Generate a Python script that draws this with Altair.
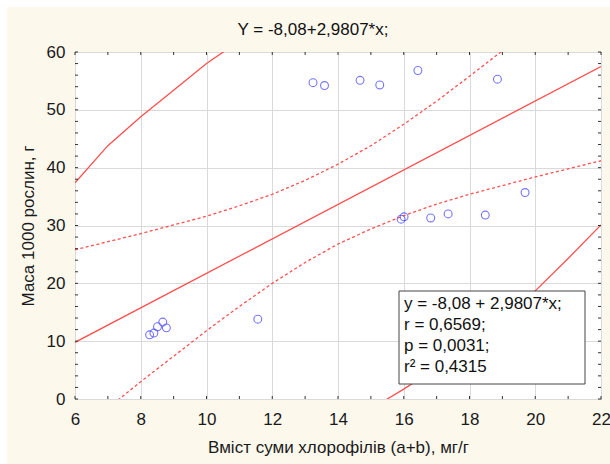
import altair as alt
import pandas as pd

# ---- data ----
x_vals = [8.27, 8.40, 8.51, 8.67, 8.78, 11.56, 13.24, 13.59, 14.67, 15.27, 16.43, 18.85,
          15.92, 16.01, 16.82, 17.35, 18.48, 19.69]
y_vals = [11.1, 11.4, 12.5, 13.3, 12.3, 13.8, 54.7, 54.2, 55.1, 54.3, 56.8, 55.3,
          31.1, 31.5, 31.3, 32.0, 31.8, 35.7]

fit_x = [6, 22]
fit_y = [9.80, 57.50]

band_x = [6, 7, 8, 9, 10, 11, 12, 13, 14, 15, 16, 17, 18, 19, 20, 21, 22]
ci_upper = [25.8, 27.2, 28.6, 30.1, 31.6, 33.4, 35.4, 37.8, 40.6, 43.8, 47.5, 51.5, 55.8, 60.2, 64.6, 69.2, 73.8]
ci_lower = [-6.2, -1.6, 3.0, 7.4, 11.8, 16.0, 20.0, 23.6, 26.8, 29.4, 31.7, 33.7, 35.4, 36.9, 38.4, 39.8, 41.2]

pi_upper_x = [6, 7, 8, 9, 10, 11]
pi_upper = [37.4, 43.8, 48.8, 53.4, 58.0, 61.9]
pi_lower_x = [15, 16, 17, 18, 19, 20, 21, 22]
pi_lower = [-1.7, 1.7, 5.4, 9.5, 13.9, 18.7, 24.3, 30.1]

x_ticks_minor = list(range(6, 23))
y_ticks_minor = list(range(0, 61, 2))
x_labels = list(range(6, 23, 2))
y_labels = list(range(0, 61, 10))

title_text = "Y = -8,08+2,9807*x;"
x_title = "Вміст суми хлорофілів (a+b), мг/г"
y_title = "Маса 1000 рослин, г"
legend_lines = ["y = -8,08 + 2,9807*x;", "r = 0,6569;", "p = 0,0031;", "r² = 0,4315"]

# ---- layout ----
W, H = 526, 347
FONT = "Liberation Sans"
RED = "#ff4f4f"
BLUE = "#3c3cff"
CREAM = "#fdf8ec"

xs = alt.Scale(domain=[6, 22], nice=False, zero=False)
ys = alt.Scale(domain=[0, 60], nice=False, zero=False)

pts = pd.DataFrame({"x": x_vals, "y": y_vals})
fit = pd.DataFrame({"x": fit_x, "y": fit_y})
ciu = pd.DataFrame({"x": band_x, "y": ci_upper})
cil = pd.DataFrame({"x": band_x, "y": ci_lower})
piu = pd.DataFrame({"x": pi_upper_x, "y": pi_upper})
pil = pd.DataFrame({"x": pi_lower_x, "y": pi_lower})

xaxis = alt.Axis(values=x_labels, title=x_title, labelFontSize=17, titleFontSize=17,
                 labelFont=FONT, titleFont=FONT, labelColor="#1a1a1a", titleColor="#1a1a1a",
                 titleFontWeight="normal", ticks=False, domain=False, labelPadding=12,
                 titlePadding=12, labelFlush=False, grid=True, gridColor="#dadada")
yaxis = alt.Axis(values=y_labels, title=y_title, labelFontSize=17, titleFontSize=17,
                 labelFont=FONT, titleFont=FONT, labelColor="#1a1a1a", titleColor="#1a1a1a",
                 titleFontWeight="normal", ticks=False, domain=False, labelPadding=10,
                 titlePadding=9, labelFlush=False, grid=True, gridColor="#dadada")

X = lambda f: alt.X(f, scale=xs, axis=xaxis)
Y = lambda f: alt.Y(f, scale=ys, axis=yaxis)

base_pts = alt.Chart(pts).mark_point(shape="circle", filled=False, color=BLUE, size=62,
                                     strokeWidth=1.1).encode(x=X("x:Q"), y=Y("y:Q"))

def line(df, dash=None):
    kw = dict(color=RED, strokeWidth=1.3, clip=True)
    if dash:
        kw["strokeDash"] = dash
    return alt.Chart(df).mark_line(**kw).encode(x=X("x:Q"), y=Y("y:Q"))

one = pd.DataFrame({"a": [0]})
# white strips at top and left of the canvas (outside plot)
strip_top = alt.Chart(one).mark_rect(color="white", clip=False).encode(
    x=alt.value(-80), x2=alt.value(W + 20), y=alt.value(-60), y2=alt.value(-45))
strip_left = alt.Chart(one).mark_rect(color="white", clip=False).encode(
    x=alt.value(-80), x2=alt.value(-68), y=alt.value(-60), y2=alt.value(H + 80))

xt = pd.DataFrame({"x": x_ticks_minor})
yt = pd.DataFrame({"y": y_ticks_minor})
TK = 3
tick_b = alt.Chart(xt).mark_rule(color="#333", strokeWidth=1).encode(
    x=X("x:Q"), y=alt.value(H), y2=alt.value(H - TK))
tick_t = alt.Chart(xt).mark_rule(color="#333", strokeWidth=1).encode(
    x=X("x:Q"), y=alt.value(0), y2=alt.value(TK))
tick_l = alt.Chart(yt).mark_rule(color="#333", strokeWidth=1).encode(
    y=Y("y:Q"), x=alt.value(0), x2=alt.value(TK))
tick_r = alt.Chart(yt).mark_rule(color="#333", strokeWidth=1).encode(
    y=Y("y:Q"), x=alt.value(W), x2=alt.value(W - TK))

# annotation box
BX0, BX1, BY0, BY1 = 324, 510, 239, 332
box = alt.Chart(one).mark_rect(fill="white", stroke="#444", strokeWidth=1).encode(
    x=alt.value(BX0), x2=alt.value(BX1), y=alt.value(BY0), y2=alt.value(BY1))
leg = pd.DataFrame({"t": ["\n".join(legend_lines)]})
leg_text = alt.Chart(leg).mark_text(align="left", baseline="top", font=FONT, fontSize=17,
                                    color="#111", lineBreak="\n", lineHeight=21).encode(
    text="t:N", x=alt.value(BX0 + 5), y=alt.value(BY0 + 5))

title = alt.Chart(pd.DataFrame({"t": [title_text]})).mark_text(
    font=FONT, fontSize=17, color="#111", baseline="middle", align="center", clip=False).encode(
    text="t:N", x=alt.value(238), y=alt.value(-22))

chart = alt.layer(
    strip_top, strip_left,
    line(piu), line(pil), line(fit), line(ciu, [3, 2.5]), line(cil, [3, 2.5]),
    base_pts,
    tick_b, tick_t, tick_l, tick_r,
    box, leg_text, title,
).properties(
    width=W, height=H,
    autosize=alt.AutoSizeParams(type="none"),
    padding={"left": 75, "top": 52, "right": 9, "bottom": 65},
    background=CREAM,
).configure_view(fill="white", stroke="#333", strokeWidth=1)

chart.save("out.html", embed_options={"renderer": "svg", "actions": False})
